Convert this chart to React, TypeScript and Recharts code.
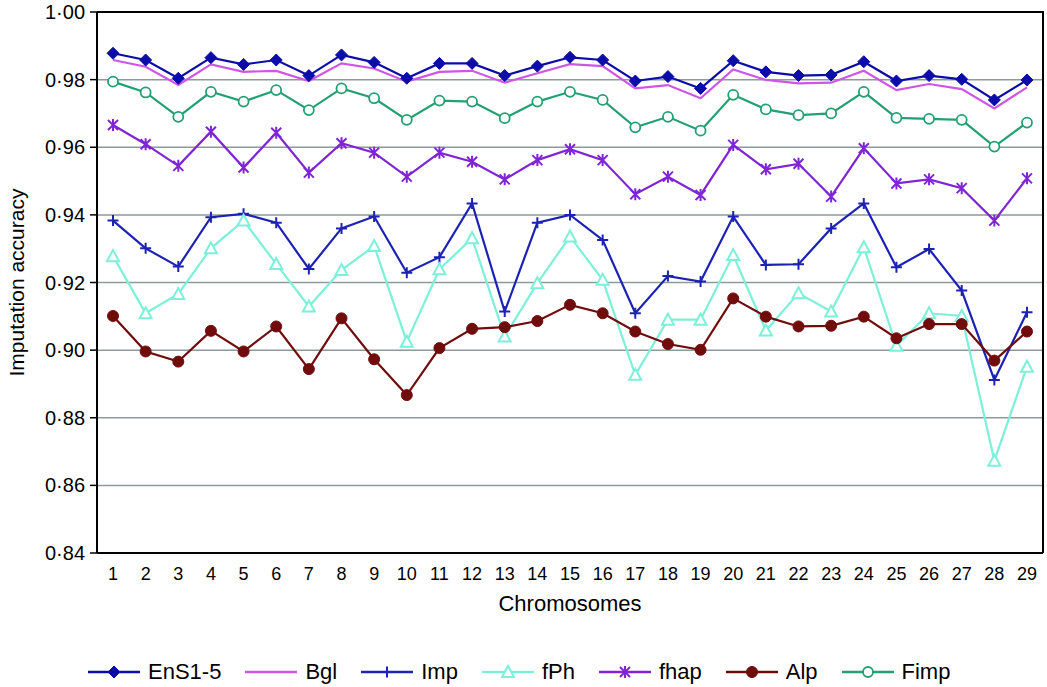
import React from "react";
import { LineChart, Line, XAxis, YAxis, CartesianGrid, Legend, ReferenceLine } from "recharts";

const chromosomes = ["1", "2", "3", "4", "5", "6", "7", "8", "9", "10", "11", "12", "13", "14", "15", "16", "17", "18", "19", "20", "21", "22", "23", "24", "25", "26", "27", "28", "29"];

const ens15 = [0.9878, 0.9858, 0.9804, 0.9865, 0.9845, 0.9858, 0.9812, 0.9873, 0.9851, 0.9804, 0.9848, 0.9848, 0.9812, 0.984, 0.9866, 0.9858, 0.9796, 0.9809, 0.9774, 0.9856, 0.9823, 0.9812, 0.9814, 0.9853, 0.9796, 0.9812, 0.9801, 0.974, 0.9799];
const bgl = [0.9858, 0.9838, 0.9784, 0.9845, 0.9823, 0.9826, 0.9796, 0.9848, 0.9833, 0.9794, 0.9823, 0.9826, 0.9791, 0.9819, 0.9846, 0.984, 0.9774, 0.9784, 0.9745, 0.983, 0.9799, 0.9789, 0.9791, 0.9826, 0.9769, 0.9787, 0.9772, 0.9715, 0.9777];
const imp = [0.9383, 0.9301, 0.9247, 0.9393, 0.9403, 0.9377, 0.924, 0.936, 0.9395, 0.9229, 0.9275, 0.9434, 0.9114, 0.9377, 0.94, 0.9326, 0.9109, 0.9219, 0.9203, 0.9395, 0.9252, 0.9254, 0.936, 0.9434, 0.9245, 0.9299, 0.9176, 0.8912, 0.9112];
const fph = [0.9278, 0.9109, 0.9166, 0.9301, 0.9383, 0.9255, 0.9129, 0.9237, 0.9308, 0.9025, 0.9239, 0.9331, 0.904, 0.9198, 0.9336, 0.9208, 0.8927, 0.909, 0.909, 0.9281, 0.9058, 0.9168, 0.9114, 0.9304, 0.9013, 0.9109, 0.9101, 0.8673, 0.8951];
const fhap = [0.9666, 0.9609, 0.9545, 0.9646, 0.954, 0.9643, 0.9525, 0.9612, 0.9584, 0.9513, 0.9584, 0.9557, 0.9505, 0.9562, 0.9594, 0.9562, 0.9461, 0.9513, 0.9459, 0.9607, 0.9535, 0.9551, 0.9454, 0.9597, 0.9493, 0.9505, 0.9479, 0.9383, 0.9508];
const alp = [0.9101, 0.8996, 0.8966, 0.9057, 0.8996, 0.907, 0.8944, 0.9094, 0.8973, 0.8867, 0.9006, 0.9063, 0.9068, 0.9086, 0.9134, 0.9109, 0.9055, 0.9018, 0.9001, 0.9153, 0.9099, 0.907, 0.9072, 0.9099, 0.9035, 0.9077, 0.9077, 0.8969, 0.9055];
const fimp = [0.9794, 0.9762, 0.969, 0.9764, 0.9735, 0.9769, 0.971, 0.9774, 0.9745, 0.9681, 0.9738, 0.9735, 0.9686, 0.9735, 0.9764, 0.974, 0.9659, 0.969, 0.9649, 0.9755, 0.9712, 0.9695, 0.97, 0.9764, 0.9687, 0.9684, 0.9681, 0.9602, 0.9673];

const yTicks = [0.84, 0.86, 0.88, 0.9, 0.92, 0.94, 0.96, 0.98, 1.0];

const W = 1047;
const H = 687;
const MARGIN = { top: 12, right: 4, left: 0, bottom: 42 };
const Y_AXIS_W = 97;
const X_AXIS_H = 62;
const LEGEND_H = 30;

const data = chromosomes.map((chr, i) => ({
  chr,
  ens: ens15[i],
  bgl: bgl[i],
  imp: imp[i],
  fph: fph[i],
  fhap: fhap[i],
  alp: alp[i],
  fimp: fimp[i],
}));

type MarkerKind = "diamond" | "none" | "plus" | "triangle" | "star" | "dot" | "circle";

const SERIES: { key: string; name: string; color: string; marker: MarkerKind }[] = [
  { key: "ens", name: "EnS1-5", color: "#0c0ca8", marker: "diamond" },
  { key: "bgl", name: "Bgl", color: "#cf55e6", marker: "none" },
  { key: "imp", name: "Imp", color: "#1c22b4", marker: "plus" },
  { key: "fph", name: "fPh", color: "#7cf0d8", marker: "triangle" },
  { key: "fhap", name: "fhap", color: "#8025d6", marker: "star" },
  { key: "alp", name: "Alp", color: "#700c0c", marker: "dot" },
  { key: "fimp", name: "Fimp", color: "#23a072", marker: "circle" },
];

function Marker({ kind, cx, cy, color }: { kind: MarkerKind; cx: number; cy: number; color: string }) {
  if (cx == null || cy == null) return null;
  switch (kind) {
    case "diamond":
      return <path d={`M${cx},${cy - 6}L${cx + 6},${cy}L${cx},${cy + 6}L${cx - 6},${cy}Z`} fill={color} stroke={color} />;
    case "plus":
      return <path d={`M${cx - 5.5},${cy}H${cx + 5.5}M${cx},${cy - 5.5}V${cy + 5.5}`} stroke={color} strokeWidth={2} />;
    case "triangle":
      return <path d={`M${cx},${cy - 6}L${cx + 6},${cy + 5}L${cx - 6},${cy + 5}Z`} fill="#fff" stroke={color} strokeWidth={2} />;
    case "star":
      return (
        <path
          d={`M${cx - 5},${cy - 5}L${cx + 5},${cy + 5}M${cx + 5},${cy - 5}L${cx - 5},${cy + 5}M${cx},${cy - 6}V${cy + 6}`}
          stroke={color}
          strokeWidth={2}
        />
      );
    case "dot":
      return <circle cx={cx} cy={cy} r={5.5} fill={color} stroke={color} />;
    case "circle":
      return <circle cx={cx} cy={cy} r={5} fill="#fff" stroke={color} strokeWidth={1.8} />;
    default:
      return null;
  }
}

function LegendBox() {
  return (
    <div style={{ display: "flex", alignItems: "center", height: LEGEND_H, paddingLeft: 88, fontSize: 22, color: "#000" }}>
      {SERIES.map((s) => (
        <div key={s.key} style={{ display: "flex", alignItems: "center", marginRight: 24 }}>
          <svg width={52} height={20} style={{ marginRight: 8 }}>
            <line x1={0} y1={10} x2={52} y2={10} stroke={s.color} strokeWidth={2.5} />
            <Marker kind={s.marker} cx={26} cy={10} color={s.color} />
          </svg>
          <span>{s.name}</span>
        </div>
      ))}
    </div>
  );
}

// plot box edges derived from the same layout numbers the chart uses
const plotLeft = MARGIN.left + Y_AXIS_W;
const plotTop = MARGIN.top;
const plotRight = W - MARGIN.right;
const plotBottom = H - MARGIN.bottom - X_AXIS_H - LEGEND_H;

export default function App() {
  return (
    <div style={{ position: "absolute", left: 0, top: 0, width: W, height: H, fontFamily: "'Liberation Sans', Arial, sans-serif", background: "#fff" }}>
      <LineChart width={W} height={H} data={data} margin={MARGIN}>
        <CartesianGrid vertical={false} stroke="#8e9a9a" strokeWidth={1.5} />
        <XAxis
          dataKey="chr"
          height={X_AXIS_H}
          padding={{ left: 16, right: 16 }}
          tickLine={false}
          tickMargin={8}
          axisLine={{ stroke: "#000", strokeWidth: 2 }}
          tick={{ fill: "#000", fontSize: 18 }}
          interval={0}
          label={{ value: "Chromosomes", position: "insideBottom", offset: 4, fill: "#000", fontSize: 22 }}
        />
        <YAxis
          width={Y_AXIS_W}
          domain={[0.84, 1]}
          ticks={yTicks}
          interval={0}
          tickFormatter={(v: number) => v.toFixed(2).replace(".", "·")}
          tickLine={{ stroke: "#000", strokeWidth: 1.5 }}
          tickSize={7}
          tickMargin={5}
          axisLine={{ stroke: "#000", strokeWidth: 2 }}
          tick={{ fill: "#000", fontSize: 20 }}
          label={{ value: "Imputation accuracy", angle: -90, position: "insideLeft", offset: 17, fill: "#000", fontSize: 21, style: { textAnchor: "middle" } }}
        />
        <ReferenceLine y={1} stroke="#000" strokeWidth={2} ifOverflow="visible" />
        {SERIES.map((s) => (
          <Line
            key={s.key}
            dataKey={s.key}
            name={s.name}
            stroke={s.color}
            strokeWidth={2.2}
            isAnimationActive={false}
            dot={(p: any) => <Marker key={`${s.key}-${p.index}`} kind={s.marker} cx={p.cx} cy={p.cy} color={s.color} />}
            activeDot={false}
          />
        ))}
        <Legend verticalAlign="bottom" content={() => <LegendBox />} wrapperStyle={{ top: 657, left: 0, width: W }} />
      </LineChart>
      {/* top and right edges of the plot frame */}
      <svg
        width={W}
        height={H}
        style={{ position: "absolute", left: 0, top: 0, pointerEvents: "none", zIndex: 10 }}
      >
        <path
          d={`M${plotLeft},${plotTop}H${plotRight}V${plotBottom}`}
          fill="none"
          stroke="#000"
          strokeWidth={2}
        />
      </svg>
    </div>
  );
}
